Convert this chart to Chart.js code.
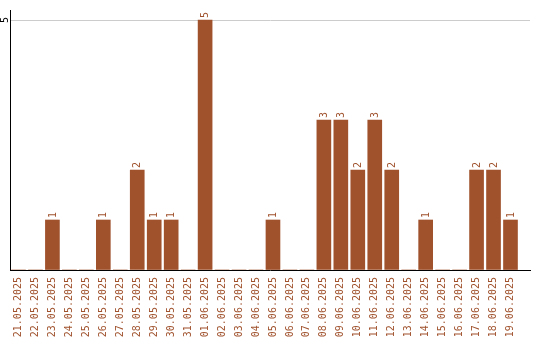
<!DOCTYPE html>
<html>
<head>
<meta charset="utf-8">
<script src="https://cdn.jsdelivr.net/npm/chart.js@4"></script>
<style>
html,body{margin:0;padding:0;background:#fff;}
#wrap{width:540px;height:340px;position:relative;}
</style>
</head>
<body>
<div id="wrap"><canvas id="c"></canvas></div>
<script>
const categories = ["21.05.2025","22.05.2025","23.05.2025","24.05.2025","25.05.2025","26.05.2025","27.05.2025","28.05.2025","29.05.2025","30.05.2025","31.05.2025","01.06.2025","02.06.2025","03.06.2025","04.06.2025","05.06.2025","06.06.2025","07.06.2025","08.06.2025","09.06.2025","10.06.2025","11.06.2025","12.06.2025","13.06.2025","14.06.2025","15.06.2025","16.06.2025","17.06.2025","18.06.2025","19.06.2025"];
const counts = [0,0,1,0,0,1,0,2,1,1,0,5,0,0,0,1,0,0,3,3,2,3,2,0,1,0,0,2,2,1];
const yTicks = [5];

const BROWN = '#a0522d';
const FONT = '"DejaVu Sans Mono", monospace';

const points = counts.map((v, i) => ({x: i, y: v}));

const labelPlugin = {
  id: 'labels',
  afterDatasetsDraw(chart) {
    const ctx = chart.ctx;
    const xs = chart.scales.x, ys = chart.scales.y;
    ctx.save();
    ctx.font = '10px ' + FONT;
    ctx.fillStyle = BROWN;
    ctx.textAlign = 'left';
    ctx.textBaseline = 'middle';
    counts.forEach((v, i) => {
      if (!v) return;
      const x = xs.getPixelForValue(i);
      const y = ys.getPixelForValue(v);
      ctx.save();
      ctx.translate(x + 0.5, y - 2);
      ctx.rotate(-Math.PI / 2);
      ctx.fillText(String(v), 0, 0);
      ctx.restore();
    });
    ctx.fillStyle = '#000';
    ctx.textAlign = 'center';
    yTicks.forEach(t => {
      const y = ys.getPixelForValue(t);
      ctx.save();
      ctx.translate(5, y);
      ctx.rotate(-Math.PI / 2);
      ctx.fillText(String(t), 0, 0);
      ctx.restore();
    });
    ctx.restore();
  }
};

new Chart(document.getElementById('c'), {
  type: 'bar',
  data: {
    datasets: [{
      data: points,
      backgroundColor: BROWN,
      borderWidth: 0,
      barThickness: 14
    }]
  },
  options: {
    responsive: true,
    maintainAspectRatio: false,
    animation: false,
    layout: {padding: {left: 10, right: 10, top: 10, bottom: 0}},
    plugins: {legend: {display: false}, tooltip: {enabled: false}},
    scales: {
      x: {
        type: 'linear',
        min: -0.5,
        max: 30.15,
        offset: false,
        afterBuildTicks: axis => { axis.ticks = categories.map((_, i) => ({value: i})); },
        afterFit: axis => { axis.height = 70; },
        ticks: {
          autoSkip: false,
          minRotation: 90,
          maxRotation: 90,
          padding: 7,
          color: BROWN,
          font: {family: FONT, size: 10},
          callback: v => categories[v]
        },
        grid: {display: false, drawTicks: false},
        border: {display: true, color: '#000', width: 1}
      },
      y: {
        min: 0,
        max: 5.2,
        afterBuildTicks: axis => { axis.ticks = [{value: 0}].concat(yTicks.map(v => ({value: v}))); },
        afterFit: axis => { axis.width = 0; },
        ticks: {display: false},
        grid: {
          drawTicks: false,
          color: c => (c.tick && c.tick.value === 0) ? 'rgba(0,0,0,0)' : '#cccccc',
          lineWidth: 1
        },
        border: {display: true, color: '#000', width: 1}
      }
    }
  },
  plugins: [labelPlugin]
});
</script>
</body>
</html>
